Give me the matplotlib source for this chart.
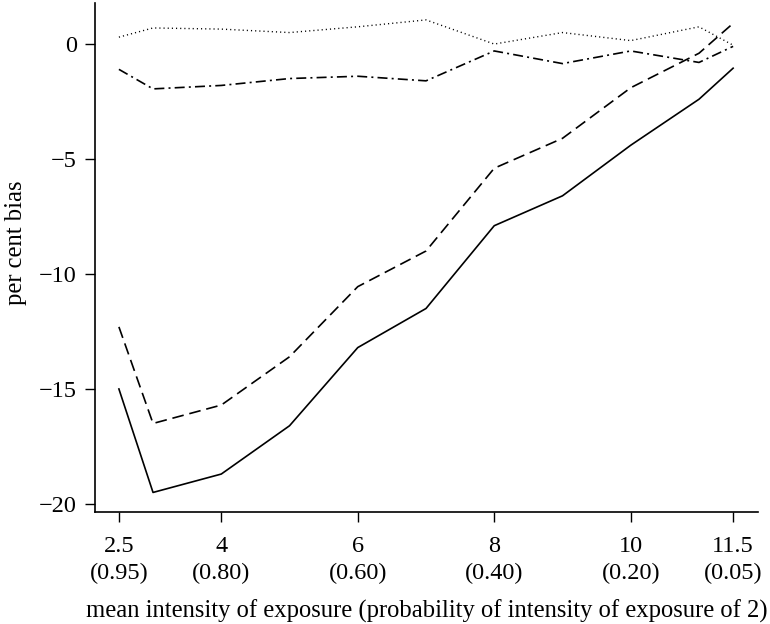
import matplotlib
matplotlib.use("Agg")
import matplotlib.pyplot as plt

plt.rcParams["font.family"] = ["Liberation Serif", "DejaVu Serif"]

# intensidade média de exposição
intensidade = [2.5, 3, 4, 5, 6, 7, 8, 9, 10, 11, 11.5]

# viés percentual de cada estimador
vies_solido = [-15.0, -19.5, -18.7, -16.6, -13.2, -11.5, -7.9, -6.6, -4.4, -2.4, -1.05]
vies_tracejado = [-12.3, -16.5, -15.7, -13.6, -10.55, -9.0, -5.4, -4.1, -1.9, -0.4, 0.9]
vies_pontilhado = [0.3, 0.7, 0.65, 0.5, 0.75, 1.05, 0.0, 0.5, 0.15, 0.75, -0.05]
vies_traco_ponto = [-1.1, -1.95, -1.8, -1.5, -1.4, -1.6, -0.3, -0.85, -0.3, -0.8, -0.1]

ticks_x = [2.5, 4, 6, 8, 10, 11.5]
rotulos_x = ["2.5\n(0.95)", "4\n(0.80)", "6\n(0.60)", "8\n(0.40)", "10\n(0.20)", "11.5\n(0.05)"]
ticks_y = [0, -5, -10, -15, -20]
rotulos_y = ["0", "\u22125", "\u221210", "\u221215", "\u221220"]

fig = plt.figure(figsize=(7.7, 6.24), dpi=100)
ax = fig.add_axes([0.1234, 0.1795, 0.8606, 0.8155])

ax.plot(intensidade, vies_solido, color="black", linewidth=1.2)
ax.plot(intensidade, vies_tracejado, color="black", linewidth=1.2, dashes=(7, 3.5))
ax.plot(intensidade, vies_pontilhado, color="black", linewidth=1.0, dashes=(0.8, 2.2))
ax.plot(intensidade, vies_traco_ponto, color="black", linewidth=1.2,
        dashes=(6, 2.5, 1.2, 2.5))

ax.set_xlim(2.15, 11.86)
ax.set_ylim(-20.35, 1.78)

ax.spines["top"].set_visible(False)
ax.spines["right"].set_visible(False)
for s in ("left", "bottom"):
    ax.spines[s].set_linewidth(1.2)

ax.set_xticks(ticks_x)
ax.set_xticklabels(rotulos_x, linespacing=1.38)
ax.set_yticks(ticks_y)
ax.set_yticklabels(rotulos_y)
ax.tick_params(axis="both", direction="out", length=7, width=1.0,
               labelsize=17.5, color="black")
ax.tick_params(axis="x", pad=10)
ax.tick_params(axis="y", pad=6)

ax.set_xlabel("mean intensity of exposure (probability of intensity of exposure of 2)",
              fontsize=17.7, labelpad=11)
ax.set_ylabel("per cent bias", fontsize=17.7)
ax.yaxis.set_label_coords(-0.103, 0.53)

fig.savefig("out.png", dpi=100)
